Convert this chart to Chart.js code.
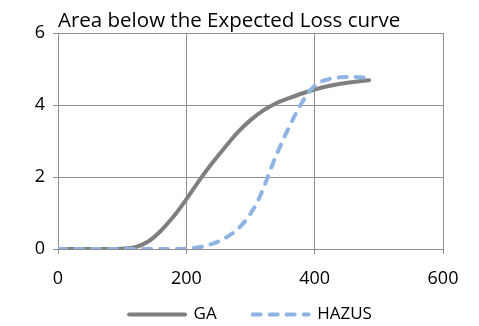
<!DOCTYPE html>
<html>
<head>
<meta charset="utf-8">
<script src="https://cdn.jsdelivr.net/npm/chart.js@4.4.0/dist/chart.umd.min.js"></script>
<style>
html,body{margin:0;padding:0;background:#fff;}
#wrap{width:479px;height:326px;position:relative;}
</style>
</head>
<body>
<div id="wrap"><canvas id="c" width="479" height="326"></canvas></div>
<script>
const chartTitle = "Area below the Expected Loss curve";
const seriesNames = ["GA", "HAZUS"];
const gaX = [0, 20, 40, 60, 80, 100, 120, 140, 160, 180, 200, 220, 240, 260, 280, 300, 320, 340, 360, 380, 400, 420, 440, 460, 485];
const gaY = [0, 0, 0, 0, 0, 0.01, 0.05, 0.2, 0.5, 0.9, 1.38, 1.9, 2.38, 2.82, 3.24, 3.58, 3.85, 4.05, 4.19, 4.32, 4.43, 4.52, 4.59, 4.64, 4.69];
const hazusX = [0, 20, 40, 60, 80, 100, 120, 140, 160, 180, 200, 220, 240, 260, 280, 290, 300, 310, 320, 330, 340, 350, 360, 370, 380, 390, 400, 410, 420, 440, 460, 478];
const hazusY = [0, 0, 0, 0, 0, 0, 0, 0, 0, 0, 0.01, 0.05, 0.14, 0.3, 0.55, 0.74, 0.98, 1.28, 1.68, 2.15, 2.6, 3.0, 3.38, 3.74, 4.06, 4.34, 4.53, 4.65, 4.71, 4.77, 4.78, 4.76];
const xTicks = [0, 200, 400, 600];
const yTicks = [0, 2, 4, 6];

const toPts = (xs, ys) => xs.map((x, i) => ({x: x, y: ys[i]}));
const FONT = "'Open Sans'";
const gridColor = "#8e8e8e";

// move the legend row up into the space below the axis labels
const legendShift = {
  id: "legendShift",
  afterLayout(chart) {
    if (chart.legend) { chart.legend.top -= 20; chart.legend.bottom -= 20; }
  }
};

new Chart(document.getElementById("c"), {
  type: "line",
  plugins: [legendShift],
  data: {
    datasets: [
      {
        label: seriesNames[0],
        data: toPts(gaX, gaY),
        borderColor: "#7f7f7f",
        backgroundColor: "#7f7f7f",
        borderWidth: 4,
        pointRadius: 0,
        cubicInterpolationMode: "monotone",
        borderCapStyle: "round",
        order: 1,
        fill: false
      },
      {
        label: seriesNames[1],
        data: toPts(hazusX, hazusY),
        borderColor: "#8db4e2",
        backgroundColor: "#8db4e2",
        borderWidth: 4,
        borderDash: [8, 9],
        borderCapStyle: "round",
        pointRadius: 0,
        cubicInterpolationMode: "monotone",
        order: 0,
        fill: false
      }
    ]
  },
  options: {
    responsive: false,
    animation: false,
    devicePixelRatio: 1,
    layout: {padding: {left: 0, right: 36, top: 8.4, bottom: -27}},
    plugins: {
      title: {
        display: true,
        text: chartTitle,
        align: "start",
        fullSize: false,
        color: "#000",
        font: {family: FONT, size: 20.5, weight: "normal"},
        padding: {top: 0, bottom: 0}
      },
      legend: {
        position: "bottom",
        fullSize: false,
        labels: {
          usePointStyle: true,
          pointStyle: "line",
          pointStyleWidth: 56,
          padding: 36,
          color: "#000",
          font: {family: FONT, size: 17, lineHeight: 1},
          generateLabels: (chart) => chart.data.datasets.map((ds, i) => ({
            text: ds.label,
            datasetIndex: i,
            fillStyle: ds.borderColor,
            strokeStyle: ds.borderColor,
            lineWidth: ds.borderWidth,
            lineDash: ds.borderDash || [],
            lineCap: ds.borderCapStyle || "butt",
            pointStyle: "line",
            fontColor: "#000",
            hidden: false
          }))
        }
      },
      tooltip: {enabled: false}
    },
    scales: {
      x: {
        type: "linear",
        min: 0,
        max: 600,
        afterBuildTicks: (s) => { s.ticks = xTicks.map(v => ({value: v})); },
        ticks: {color: "#000", font: {family: FONT, size: 18}, padding: 14, maxRotation: 0},
        grid: {color: gridColor, lineWidth: 1, tickLength: 5, drawTicks: true},
        border: {color: gridColor, width: 1},
        afterFit: (s) => { s.height = 41; }
      },
      y: {
        type: "linear",
        min: 0,
        max: 6,
        afterBuildTicks: (s) => { s.ticks = yTicks.map(v => ({value: v})); },
        ticks: {color: "#000", font: {family: FONT, size: 18}, padding: 8},
        grid: {color: gridColor, lineWidth: 1, tickLength: 5, drawTicks: true},
        border: {color: gridColor, width: 1},
        afterFit: (s) => { s.width = 58; }
      }
    }
  }
});
</script>
</body>
</html>
